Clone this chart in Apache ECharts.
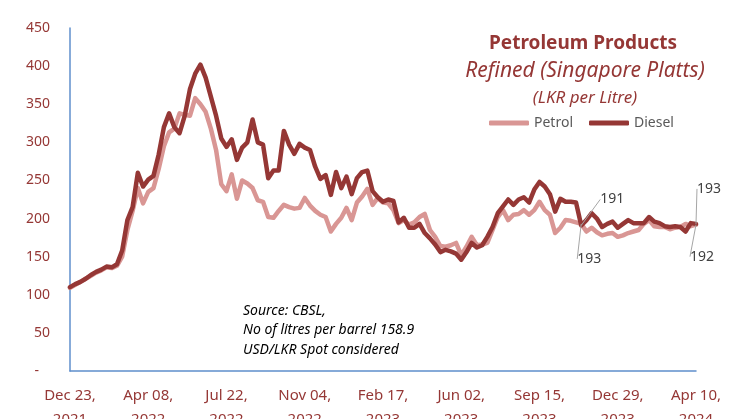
<!DOCTYPE html>
<html>
<head>
<meta charset="utf-8">
<title>Petroleum Products</title>
<script src="https://cdn.jsdelivr.net/npm/echarts@6/dist/echarts.min.js"></script>
<style>
  html, body { margin: 0; padding: 0; background: #fff; }
  #chart { width: 742px; height: 419px; }
</style>
</head>
<body>
<div id="chart"></div>
<script>
// x tick labels, one every 15 weeks
var tickLabels = ['Dec 23,\n2021', 'Apr 08,\n2022', 'Jul 22,\n2022', 'Nov 04,\n2022', 'Feb 17,\n2023',
                  'Jun 02,\n2023', 'Sep 15,\n2023', 'Dec 29,\n2023', 'Apr 10,\n2024'];

// weekly prices, LKR per litre
var petrol = [109, 113, 117, 121, 125, 129, 132, 136, 135, 138,
              150, 185, 210, 240, 220, 235, 240, 265, 295, 313,
              318, 338, 336, 335, 358, 350, 340, 318, 290, 245,
              236, 258, 226, 250, 246, 240, 224, 222, 202, 201,
              210, 218, 215, 213, 214, 227, 217, 210, 205, 202,
              183, 193, 201, 214, 198, 221, 229, 239, 218, 227,
              221, 220, 211, 194, 198, 192, 195, 202, 206, 185,
              176, 164, 163, 165, 168, 152, 163, 176, 165, 166,
              168, 185, 202, 211, 198, 205, 206, 211, 205, 211,
              222, 211, 205, 181, 188, 198, 197, 195, 193, 183,
              188, 182, 178, 180, 181, 176, 178, 181, 183, 185,
              193, 198, 190, 189, 189, 186, 188, 189, 193, 190,
              192];

var diesel = [110, 114, 117, 121, 126, 130, 133, 137, 136, 140,
              158, 198, 215, 260, 242, 251, 256, 284, 320, 338,
              320, 312, 335, 370, 390, 402, 385, 360, 335, 305,
              294, 304, 277, 293, 300, 330, 300, 297, 253, 263,
              263, 315, 297, 285, 298, 293, 290, 268, 252, 257,
              231, 261, 240, 255, 232, 253, 261, 263, 236, 228,
              222, 225, 223, 195, 201, 188, 188, 193, 181, 174,
              166, 156, 159, 157, 154, 146, 156, 168, 162, 165,
              176, 189, 207, 216, 225, 218, 225, 228, 221, 238,
              248, 242, 232, 209, 226, 222, 222, 221, 191, 198,
              207, 200, 189, 193, 196, 188, 193, 198, 194, 194,
              194, 202, 196, 194, 190, 189, 190, 189, 183, 194,
              193];

// points that carry a value label
var labelledWeeks = [98, 120];

var categories = petrol.map(function (v, i) {
    return i % 15 === 0 ? tickLabels[i / 15] : 'w' + i;
});

var darkRed = '#953735';
var pink = '#d99694';
var axisBlue = '#5f8fcc';
var font = 'Noto Sans';

function withLabels(values, position) {
    return values.map(function (v, i) {
        if (labelledWeeks.indexOf(i) < 0) return v;
        return { value: v, label: { show: true, position: position } };
    });
}

var chart = echarts.init(document.getElementById('chart'), null, { renderer: 'canvas' });

chart.setOption({
    animation: false,
    backgroundColor: '#fff',
    textStyle: { fontFamily: font },
    title: [
        {
            text: 'Petroleum Products',
            left: 578, top: 29, textAlign: 'center',
            textStyle: { color: darkRed, fontSize: 19, fontWeight: 'bold', fontFamily: font }
        },
        {
            text: 'Refined (Singapore Platts)',
            left: 580, top: 56, textAlign: 'center',
            textStyle: { color: darkRed, fontSize: 21, fontStyle: 'italic', fontWeight: 'normal', fontFamily: font }
        },
        {
            text: '(LKR per Litre)',
            left: 580, top: 85, textAlign: 'center',
            textStyle: { color: darkRed, fontSize: 17, fontStyle: 'italic', fontWeight: 'normal', fontFamily: font }
        },
        {
            text: 'Source: CBSL,\nNo of litres per barrel 158.9\nUSD/LKR Spot considered',
            left: 238, top: 296,
            textStyle: { color: '#000', fontSize: 14, fontStyle: 'italic', fontWeight: 'normal', lineHeight: 19.5, fontFamily: font }
        }
    ],
    legend: {
        data: ['Petrol', 'Diesel'],
        left: 484, top: 111,
        icon: 'roundRect',
        itemWidth: 40, itemHeight: 5,
        itemGap: 16,
        textStyle: { color: '#595959', fontSize: 14, fontFamily: font }
    },
    grid: { left: 70, right: 46, top: 28, bottom: 48, outerBoundsMode: 'none', containLabel: false },
    xAxis: {
        type: 'category',
        data: categories,
        boundaryGap: false,
        axisLine: { lineStyle: { color: axisBlue, width: 1.5 } },
        axisTick: { show: false },
        axisLabel: {
            interval: 14,
            margin: 13,
            color: darkRed,
            fontSize: 15,
            lineHeight: 24,
            fontFamily: font,
            formatter: function (v) { return v.charAt(0) === 'w' ? '' : v; }
        },
        splitLine: { show: false }
    },
    yAxis: {
        type: 'value',
        min: 0, max: 450, interval: 50,
        axisLine: { show: true, lineStyle: { color: axisBlue, width: 1.5 } },
        axisTick: { show: false },
        splitLine: { show: false },
        axisLabel: {
            margin: 20,
            color: darkRed,
            fontSize: 14,
            fontFamily: font,
            formatter: function (v) { return v === 0 ? '-   ' : v; }
        }
    },
    series: [
        {
            name: 'Petrol',
            type: 'line',
            data: withLabels(petrol, 'bottom'),
            symbol: 'circle',
            symbolSize: 0,
            showSymbol: true,
            itemStyle: { color: pink },
            lineStyle: { color: pink, width: 4.5, cap: 'round', join: 'round' },
            label: { show: false, color: '#404040', fontSize: 14, fontFamily: font },
            labelLine: { show: true, lineStyle: { color: '#a6a6a6', width: 1 } },
            labelLayout: function (p) {
                if (p.dataIndex === 98) return { dx: 8, dy: 23 };
                if (p.dataIndex === 120) return { dx: 6, dy: 20 };
                return {};
            },
            emphasis: { disabled: true }
        },
        {
            name: 'Diesel',
            type: 'line',
            data: withLabels(diesel, 'top'),
            symbol: 'circle',
            symbolSize: 0,
            showSymbol: true,
            itemStyle: { color: darkRed },
            lineStyle: { color: darkRed, width: 4.5, cap: 'round', join: 'round' },
            label: { show: false, color: '#404040', fontSize: 14, fontFamily: font },
            labelLine: { show: true, lineStyle: { color: '#a6a6a6', width: 1 } },
            labelLayout: function (p) {
                if (p.dataIndex === 98) return { dx: 31, dy: -14 };
                if (p.dataIndex === 120) return { dx: 13, dy: -23 };
                return {};
            },
            emphasis: { disabled: true }
        }
    ]
});
</script>
</body>
</html>
